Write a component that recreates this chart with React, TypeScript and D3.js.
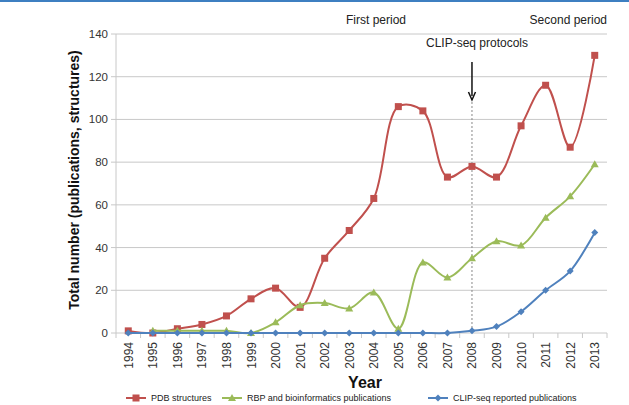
import { useMemo } from "react";
import * as d3 from "d3";

const WIDTH = 629;
const HEIGHT = 405;
const PLOT = { left: 116, right: 607, top: 34, bottom: 333 };

const years = ["1994", "1995", "1996", "1997", "1998", "1999", "2000", "2001", "2002", "2003", "2004", "2005", "2006", "2007", "2008", "2009", "2010", "2011", "2012", "2013"];
const pdbStructures = [1, 0, 2, 4, 8, 16, 21, 12, 35, 48, 63, 106, 104, 73, 78, 73, 97, 116, 87, 130];
const rbpPublications: (number | null)[] = [null, 1, 1, 1, 1, 0, 5, 13, 14, 11.5, 19, 2, 33, 26, 35, 43, 41, 54, 64, 79];
const clipPublications = [0, 0, 0, 0, 0, 0, 0, 0, 0, 0, 0, 0, 0, 0, 1, 3, 10, 20, 29, 47];
const yTicks = [0, 20, 40, 60, 80, 100, 120, 140];

const FONT = "Liberation Sans, Arial, sans-serif";

const series = [
  { name: "PDB structures", values: pdbStructures, color: "#c0504d", marker: "square", legendX: 126 },
  { name: "RBP and bioinformatics publications", values: rbpPublications, color: "#9bbb59", marker: "triangle", legendX: 222 },
  { name: "CLIP-seq reported publications", values: clipPublications, color: "#4f81bd", marker: "diamond", legendX: 428 },
];

function Marker({ type, x, y, color }: { type: string; x: number; y: number; color: string }) {
  if (type === "square") return <rect x={x - 3.5} y={y - 3.5} width={7} height={7} fill={color} />;
  if (type === "triangle") return <path d={`M${x},${y - 4}L${x + 4},${y + 3}L${x - 4},${y + 3}Z`} fill={color} />;
  return <path d={`M${x},${y - 3.5}L${x + 3.5},${y}L${x},${y + 3.5}L${x - 3.5},${y}Z`} fill={color} />;
}

export default function App() {
  const x = useMemo(() => d3.scaleBand<string>().domain(years).range([PLOT.left, PLOT.right]), []);
  const y = useMemo(() => d3.scaleLinear().domain([0, 140]).range([PLOT.bottom, PLOT.top]), []);
  const cx = (year: string) => (x(year) ?? 0) + x.bandwidth() / 2;

  const line = d3
    .line<number | null>()
    .defined((d) => d !== null)
    .x((_, i) => cx(years[i]))
    .y((d) => y(d as number))
    .curve(d3.curveCatmullRom.alpha(0.5));

  const markerX = cx("2008");

  return (
    <svg width={WIDTH} height={HEIGHT} style={{ position: "absolute", left: 0, top: 0, background: "#fff" }} fontFamily={FONT}>
      <rect x={0} y={0} width={WIDTH} height={2} fill="#3d7fc1" />

      {/* gridlines + y axis */}
      {yTicks.map((t) => (
        <g key={t}>
          <line x1={PLOT.left - 5} x2={PLOT.right} y1={y(t)} y2={y(t)} stroke="#c8c8c8" strokeWidth={1} />
          <text x={PLOT.left - 8} y={y(t)} dy="0.35em" textAnchor="end" fontSize={11.5} fill="#333">
            {t}
          </text>
        </g>
      ))}
      <line x1={PLOT.left} x2={PLOT.left} y1={PLOT.top} y2={PLOT.bottom} stroke="#c8c8c8" />

      {/* x ticks and labels */}
      {years.map((yr) => (
        <g key={yr}>
          <line x1={x(yr)} x2={x(yr)} y1={PLOT.bottom} y2={PLOT.bottom + 5} stroke="#c8c8c8" />
          <text transform={`translate(${cx(yr) + 4.5},${PLOT.bottom + 9}) rotate(-90)`} textAnchor="end" fontSize={12} fill="#333">
            {yr}
          </text>
        </g>
      ))}
      <line x1={PLOT.right} x2={PLOT.right} y1={PLOT.bottom} y2={PLOT.bottom + 5} stroke="#c8c8c8" />

      {/* 2008 marker */}
      <line x1={markerX} x2={markerX} y1={98} y2={PLOT.bottom} stroke="#888" strokeDasharray="2,2" />
      <line x1={markerX} x2={markerX} y1={62} y2={96} stroke="#111" strokeWidth={1.5} />
      <path d={`M${markerX - 3.5},${92}L${markerX},${100}L${markerX + 3.5},${92}`} fill="none" stroke="#111" strokeWidth={1.5} />
      <text x={477} y={47} textAnchor="middle" fontSize={12} fill="#222">CLIP-seq protocols</text>
      <text x={376} y={24} textAnchor="middle" fontSize={12} fill="#222">First period</text>
      <text x={607} y={24} textAnchor="end" fontSize={12} fill="#222">Second period</text>

      {/* series */}
      {series.map((s) => (
        <g key={s.name}>
          <path d={line(s.values) ?? ""} fill="none" stroke={s.color} strokeWidth={2} />
          {s.values.map((v, i) =>
            v === null ? null : <Marker key={i} type={s.marker} x={cx(years[i])} y={y(v)} color={s.color} />
          )}
        </g>
      ))}

      {/* axis titles */}
      <text transform={`translate(79,180) rotate(-90)`} textAnchor="middle" fontSize={14} fontWeight="bold" fill="#111">
        Total number (publications, structures)
      </text>
      <text x={365} y={388} textAnchor="middle" fontSize={16} fontWeight="bold" fill="#111">Year</text>

      {/* legend */}
      {series.map((s) => (
        <g key={s.name}>
          <line x1={s.legendX} x2={s.legendX + 20} y1={398} y2={398} stroke={s.color} strokeWidth={2} />
          <Marker type={s.marker} x={s.legendX + 10} y={398} color={s.color} />
          <text x={s.legendX + 25} y={398} dy="0.35em" fontSize={9} fill="#222">{s.name}</text>
        </g>
      ))}
    </svg>
  );
}
